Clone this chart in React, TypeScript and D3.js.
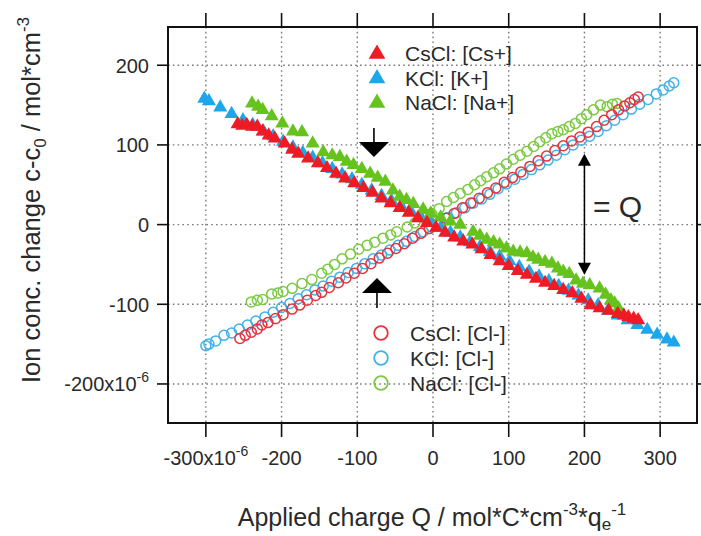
import React from 'react';
import * as d3 from 'd3';

// ---------- data ----------
const xTicks = [-300, -200, -100, 0, 100, 200, 300];
const yTicks = [-200, -100, 0, 100, 200];
const xTickLabels = ['-300x10', '-200', '-100', '0', '100', '200', '300'];
const yTickLabels = ['-200x10', '-100', '0', '100', '200'];

// KCl: [K+]  (filled triangles, blue)
const kQ = [-302, -296, -281, -266, -251, -238, -224, -211, -198, -185, -172, -159, -146, -133, -120, -107, -94, -81, -68, -55, -42, -29, -16, -3, 10, 23, 36, 49, 62, 75, 88, 101, 114, 127, 140, 153, 166, 179, 192, 205, 218, 231, 244, 257, 270, 283, 296, 309, 318];
const kV = [158, 155, 147, 139, 131, 125, 117, 111, 104, 97, 90, 84, 77, 70, 63, 57, 50, 43, 36, 30, 23, 16, 9, 3, -4, -10, -16, -22, -28, -34, -40, -46, -53, -59, -65, -71, -77, -83, -89, -95, -101, -108, -114, -120, -126, -132, -138, -144, -148];

// NaCl: [Na+] (filled triangles, green)
const naQ = [-239, -231, -225, -213, -199, -185, -173, -159, -145, -133, -123, -114, -105, -94, -83, -73, -63, -53, -44, -35, -26, -13, -3, 10, 23, 36, 53, 62, 71, 80, 88, 97, 106, 115, 124, 132, 139, 148, 157, 165, 172, 180, 189, 198, 207, 220, 228, 235, 240, 245];
const naV = [152, 148, 144, 136, 127, 117, 116, 102, 91, 87, 85, 79, 75, 70, 64, 59, 54, 43, 35, 31, 26, 19, 14, 9, 4, 0, -9, -14, -19, -22, -25, -30, -34, -35, -36, -41, -44, -47, -49, -55, -59, -62, -70, -74, -76, -80, -88, -95, -99, -105];

// CsCl: [Cs+] (filled triangles, red)
const csQ = [-258, -252, -246, -239, -232, -225, -217, -209, -196, -186, -178, -165, -152, -140, -128, -116, -104, -92, -80, -68, -56, -44, -32, -20, -8, 4, 16, 28, 40, 52, 64, 76, 88, 100, 112, 124, 136, 148, 160, 172, 184, 196, 208, 220, 232, 244, 252, 258, 265, 271];
const csV = [126, 124, 125, 123, 123, 117, 112, 108, 102, 94, 89, 83, 77, 71, 64, 58, 52, 46, 40, 33, 27, 21, 15, 8, 2, -4, -10, -16, -21, -25, -31, -38, -46, -52, -58, -63, -68, -73, -77, -82, -86, -93, -101, -105, -108, -112, -114, -116, -118, -120];

// KCl: [Cl-] (open circles, blue)
const kClQ = [-300, -296, -287, -276, -266, -256, -245, -234, -222, -211, -200, -189, -178, -167, -156, -145, -134, -123, -112, -101, -90, -79, -68, -57, -46, -35, -24, -13, -2, 9, 20, 31, 42, 53, 64, 75, 86, 97, 108, 119, 130, 141, 152, 163, 174, 185, 196, 207, 218, 229, 240, 251, 262, 273, 284, 295, 304, 312, 318];
const kClV = [-152, -150, -146, -139, -136, -131, -126, -121, -116, -110, -104, -99, -93, -88, -82, -77, -71, -66, -60, -55, -49, -43, -38, -32, -26, -21, -15, -9, -3, 3, 9, 15, 21, 27, 32, 38, 45, 51, 57, 63, 69, 75, 81, 87, 94, 100, 106, 111, 117, 124, 131, 138, 145, 151, 157, 164, 169, 174, 178];

// NaCl: [Cl-] (open circles, green)
const naClQ = [-240, -232, -225, -213, -205, -198, -186, -173, -160, -147, -139, -130, -120, -109, -98, -87, -77, -66, -56, -48, -34, -24, -12, -2, 8, 18, 27, 36, 46, 55, 63, 71, 80, 88, 97, 106, 115, 124, 133, 141, 149, 157, 165, 172, 180, 188, 196, 203, 212, 221, 230, 237, 243];
const naClV = [-97, -95, -94, -87, -86, -84, -80, -74, -69, -61, -56, -50, -43, -37, -31, -26, -22, -17, -13, -9, -3, 2, 8, 14, 20, 29, 34, 39, 44, 50, 55, 60, 65, 70, 76, 82, 87, 92, 98, 104, 109, 114, 117, 119, 123, 127, 133, 138, 144, 150, 148, 151, 152];

// CsCl: [Cl-] (open circles, red)
const csClQ = [-255, -248, -240, -232, -226, -218, -208, -198, -186, -176, -166, -155, -147, -137, -125, -115, -104, -93, -82, -71, -60, -49, -38, -27, -16, -5, 6, 17, 28, 39, 50, 61, 72, 83, 94, 105, 116, 128, 139, 150, 161, 172, 183, 194, 205, 216, 226, 236, 245, 253, 260, 266, 271];
const csClV = [-143, -139, -135, -131, -126, -123, -118, -113, -106, -101, -95, -89, -85, -79, -73, -67, -61, -55, -49, -42, -36, -30, -24, -17, -11, -5, 1, 8, 14, 21, 27, 33, 40, 46, 53, 59, 66, 73, 80, 86, 93, 99, 105, 110, 116, 123, 131, 138, 144, 149, 153, 157, 160];

const triLegend = ['CsCl: [Cs+]', 'KCl: [K+]', 'NaCl: [Na+]'];
const circLegend = ['CsCl: [Cl-]', 'KCl: [Cl-]', 'NaCl: [Cl-]'];

// annotation anchors (data units)
const downArrowQ = -78;
const upArrowQ = -74;
const qArrowQ = 200;
const qArrowRange = [89, -63];

// ---------- styles ----------
const RED = '#ee1a24';
const BLUE = '#1ea6ea';
const GREEN = '#66c31e';
const RED_C = '#e3343f';
const BLUE_C = '#40b2e8';
const GREEN_C = '#7cc943';
const FONT = 'Liberation Sans, Arial, Helvetica, sans-serif';

const W = 701;
const H = 536;
const L = 168, R = 698, T = 27, B = 423;

export default function App() {
  const x = d3.scaleLinear().domain([-350, 350]).range([L, R]);
  const y = d3.scaleLinear().domain([-249, 248]).range([B, T]);

  const tri = d3.symbol().type(d3.symbolTriangle).size(86)()!;
  const triBig = d3.symbol().type(d3.symbolTriangle).size(120)()!;

  const triSeries = [
    { q: kQ, v: kV, c: BLUE },
    { q: naQ, v: naV, c: GREEN },
    { q: csQ, v: csV, c: RED },
  ];
  const circSeries = [
    { q: kClQ, v: kClV, c: BLUE_C },
    { q: naClQ, v: naClV, c: GREEN_C },
    { q: csClQ, v: csClV, c: RED_C },
  ];

  const grid = '#7a7a7a';
  const tickCol = '#111';
  const textCol = '#2a2a2a';

  const dx = x(downArrowQ);
  const ux = x(upArrowQ);
  const qx = x(qArrowQ);
  const qTop = y(qArrowRange[0]);
  const qBot = y(qArrowRange[1]);

  return (
    <svg width={W} height={H} style={{ position: 'absolute', left: 0, top: 0, background: '#fff' }} fontFamily={FONT}>
      <rect x={0} y={0} width={W} height={H} fill="#fff" />
      {/* grid */}
      {xTicks.map((t) => (
        <line key={'gx' + t} x1={x(t)} x2={x(t)} y1={T} y2={B} stroke={grid} strokeWidth={1.4} strokeDasharray="1.6 3.2" />
      ))}
      {yTicks.map((t) => (
        <line key={'gy' + t} x1={L} x2={R} y1={y(t)} y2={y(t)} stroke={grid} strokeWidth={1.4} strokeDasharray="1.6 3.2" />
      ))}

      {/* data: circles */}
      {circSeries.map((s, i) => (
        <g key={'c' + i}>
          {s.q.map((q, j) => (
            <circle key={j} cx={x(q)} cy={y(s.v[j])} r={5} fill="none" stroke={s.c} strokeWidth={1.5} />
          ))}
        </g>
      ))}
      {/* data: triangles */}
      {triSeries.map((s, i) => (
        <g key={'t' + i}>
          {s.q.map((q, j) => (
            <path key={j} d={tri} transform={`translate(${x(q)},${y(s.v[j])})`} fill={s.c} />
          ))}
        </g>
      ))}

      {/* frame */}
      <rect x={L} y={T} width={R - L - 1} height={B - T} fill="none" stroke={tickCol} strokeWidth={2} />

      {/* ticks */}
      {xTicks.map((t) => (
        <g key={'tx' + t}>
          <line x1={x(t)} x2={x(t)} y1={B} y2={B + 14} stroke={tickCol} strokeWidth={1.6} />
          <line x1={x(t)} x2={x(t)} y1={T} y2={T - 14} stroke={tickCol} strokeWidth={1.6} />
        </g>
      ))}
      {yTicks.map((t) => (
        <g key={'ty' + t}>
          <line x1={L} x2={L - 11} y1={y(t)} y2={y(t)} stroke={tickCol} strokeWidth={1.6} />
          <line x1={R - 1} x2={R + 10} y1={y(t)} y2={y(t)} stroke={tickCol} strokeWidth={1.6} />
        </g>
      ))}

      {/* tick labels */}
      {xTicks.map((t, i) => (
        <text key={'lx' + t} x={x(t)} y={465} textAnchor="middle" fontSize={20} fill={textCol}>
          {xTickLabels[i]}
          {i === 0 ? (
            <tspan dy={-9} fontSize={14}>-6</tspan>
          ) : null}
        </text>
      ))}
      {yTicks.map((t, i) => (
        <text key={'ly' + t} x={149} y={y(t) + 7.5} textAnchor="end" fontSize={20} fill={textCol}>
          {yTickLabels[i]}
          {i === 0 ? (
            <tspan dy={-9} fontSize={14}>-6</tspan>
          ) : null}
        </text>
      ))}

      {/* axis titles */}
      <text x={432} y={526} textAnchor="middle" fontSize={25} fill={textCol}>
        Applied charge Q / mol*C*cm
        <tspan dy={-11} fontSize={17}>-3</tspan>
        <tspan dy={11}>*q</tspan>
        <tspan dy={4} fontSize={17}>e</tspan>
        <tspan dy={-15} fontSize={17}>-1</tspan>
      </text>
      <text transform="translate(40,200) rotate(-90)" textAnchor="middle" fontSize={25.5} fill={textCol}>
        Ion conc. change c-c
        <tspan dy={6} fontSize={17}>0</tspan>
        <tspan dy={-6}> / mol*cm</tspan>
        <tspan dy={-11} fontSize={17}>-3</tspan>
      </text>

      {/* legend: triangles */}
      {triLegend.map((lab, i) => {
        const cy = 53 + i * 24.5;
        const col = [RED, BLUE, GREEN][i];
        return (
          <g key={'lt' + i}>
            <path d={triBig} transform={`translate(377,${cy + 1})`} fill={col} />
            <text x={405} y={cy + 8} fontSize={21} fill={textCol}>{lab}</text>
          </g>
        );
      })}
      {/* legend: circles */}
      {circLegend.map((lab, i) => {
        const cy = 333 + i * 25;
        const col = [RED_C, BLUE_C, GREEN_C][i];
        return (
          <g key={'lc' + i}>
            <circle cx={381} cy={cy} r={6.8} fill="none" stroke={col} strokeWidth={1.8} />
            <text x={410} y={cy + 8} fontSize={21} fill={textCol}>{lab}</text>
          </g>
        );
      })}

      {/* arrows */}
      <line x1={dx} x2={dx} y1={128} y2={145} stroke="#000" strokeWidth={1.6} />
      <path d={`M${dx - 15},142 L${dx + 15},142 L${dx},157 Z`} fill="#000" />
      <line x1={ux} x2={ux} y1={291} y2={308} stroke="#000" strokeWidth={1.6} />
      <path d={`M${ux - 15},293 L${ux + 15},293 L${ux},278 Z`} fill="#000" />

      <line x1={qx} x2={qx} y1={qTop + 8} y2={qBot - 8} stroke="#000" strokeWidth={1.5} />
      <path d={`M${qx - 6.5},${qTop + 12} L${qx + 6.5},${qTop + 12} L${qx},${qTop} Z`} fill="#000" />
      <path d={`M${qx - 6.5},${qBot - 12} L${qx + 6.5},${qBot - 12} L${qx},${qBot} Z`} fill="#000" />
      <text x={593} y={217} fontSize={30} fill={textCol}>= Q</text>
    </svg>
  );
}
